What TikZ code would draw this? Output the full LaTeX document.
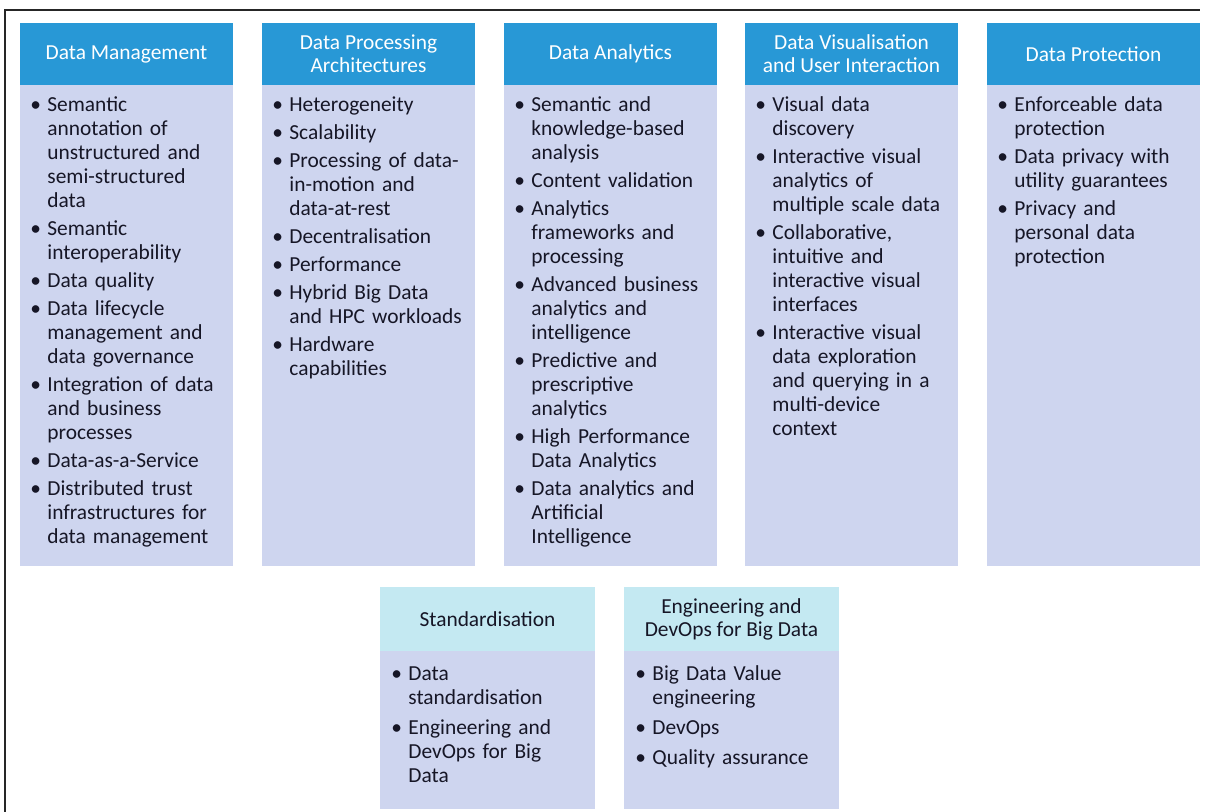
\documentclass[tikz,border=0pt]{standalone}
\usepackage{fontspec}
\setmainfont{Carlito}
\usetikzlibrary{positioning}
\definecolor{headblue}{RGB}{40,152,214}
\definecolor{bodyblue}{RGB}{206,213,239}
\definecolor{headcyan}{RGB}{196,233,242}
\definecolor{inkdark}{RGB}{22,22,38}
\newcommand{\bitem}{\par\noindent\hangindent=8.5pt\hangafter=1\makebox[8.5pt][l]{\textbullet}\strut}
\newcommand{\nl}{\newline}

\begin{document}
\begin{tikzpicture}[x=0.5pt,y=-0.5pt,
	head/.style={fill=headblue, text=white, minimum width=106.5pt, minimum height=31pt,
		inner sep=0pt, outer sep=0pt, align=center, font=\fontsize{10.7pt}{11.5pt}\selectfont},
	lowhead/.style={head, fill=headcyan, text=inkdark, minimum width=107.5pt, minimum height=32pt},
	bodybox/.style={fill=bodyblue, minimum width=106.5pt, minimum height=240.5pt, inner sep=0pt, outer sep=0pt},
	lowbody/.style={bodybox, minimum width=107.5pt, minimum height=79pt},
	items/.style={anchor=north west, inner sep=0pt, text width=110pt, align=left, text=inkdark,
		font=\fontsize{10.7pt}{12pt}\selectfont, execute at begin node={\setlength{\parskip}{2pt}}}]
	\useasboundingbox (0,0) rectangle (1206,812);
	% frame
	\draw[line width=0.7pt, black!85] (5,812) -- (5,10) -- (1200,10);

	% top row headers
	\node[head, anchor=north west] (dmh) at (20,23) {Data Management};
	\node[head, right=14.5pt of dmh] (dph) {Data Processing\\Architectures};
	\node[head, right=14.5pt of dph] (dah) {Data Analytics};
	\node[head, right=14pt of dah] (dvh) {Data Visualisation\\and User Interaction};
	\node[head, right=14.5pt of dvh] (pth) {Data Protection};
	% top row bodies
	\foreach \c in {dm,dp,da,dv,pt}
		\node[bodybox, below=0pt of \c h] (\c b) {};

	\node[items] (dmt) at ([shift={(10,-2)}]dmb.north west) {%
		\bitem Semantic\nl annotation of\nl unstructured and\nl semi-structured\nl data
		\bitem Semantic\nl interoperability
		\bitem Data quality
		\bitem Data lifecycle\nl management and\nl data governance
		\bitem Integration of data\nl and business\nl processes
		\bitem Data-as-a-Service
		\bitem Distributed trust\nl infrastructures for\nl data management\par};
	\node[items] (dpt) at ([shift={(10,-2)}]dpb.north west) {%
		\bitem Heterogeneity
		\bitem Scalability
		\bitem Processing of data-\nl in-motion and\nl data-at-rest
		\bitem Decentralisation
		\bitem Performance
		\bitem Hybrid Big Data\nl and HPC workloads
		\bitem Hardware\nl capabilities\par};
	\node[items] (dat) at ([shift={(10,-2)}]dab.north west) {%
		\bitem Semantic and\nl knowledge-based\nl analysis
		\bitem Content validation
		\bitem Analytics\nl frameworks and\nl processing
		\bitem Advanced business\nl analytics and\nl intelligence
		\bitem Predictive and\nl prescriptive\nl analytics
		\bitem High Performance\nl Data Analytics
		\bitem Data analytics and\nl Artificial\nl Intelligence\par};
	\node[items] (dvt) at ([shift={(10,-2)}]dvb.north west) {%
		\bitem Visual data\nl discovery
		\bitem Interactive visual\nl analytics of\nl multiple scale data
		\bitem Collaborative,\nl intuitive and\nl interactive visual\nl interfaces
		\bitem Interactive visual\nl data exploration\nl and querying in a\nl multi-device\nl context\par};
	\node[items] (ptt) at ([shift={(10,-2)}]ptb.north west) {%
		\bitem Enforceable data\nl protection
		\bitem Data privacy with\nl utility guarantees
		\bitem Privacy and\nl personal data\nl protection\par};

	% bottom row
	\node[lowhead, anchor=north west] (sth) at (380,587) {Standardisation};
	\node[lowhead, right=14.5pt of sth] (edh) {Engineering and\\DevOps for Big Data};
	\node[lowbody, below=0pt of sth] (stb) {};
	\node[lowbody, below=0pt of edh] (edb) {};

	\node[items, execute at begin node={\setlength{\parskip}{3pt}}] (stt) at ([shift={(11,-1)}]stb.north west) {%
		\bitem Data\nl standardisation
		\bitem Engineering and\nl DevOps for Big\nl Data\par};
	\node[items, execute at begin node={\setlength{\parskip}{3pt}}] (edt) at ([shift={(11,-1)}]edb.north west) {%
		\bitem Big Data Value\nl engineering
		\bitem DevOps
		\bitem Quality assurance\par};
\end{tikzpicture}
\end{document}
